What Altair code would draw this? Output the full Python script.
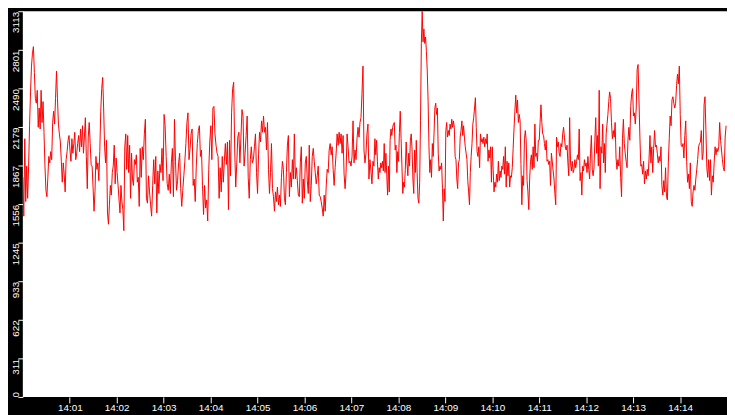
import altair as alt
import pandas as pd

# Values per 2.5-minute segment (evenly spaced samples within each segment)
seg_1400_00 = [1772, 1459, 2084, 1577, 1863, 1603, 1863, 2189, 2462, 2670, 2774, 2827, 2618, 2410, 2371, 2475,
               2176, 2332, 2163, 2475, 2215, 2384, 2136, 1863, 1668, 1616, 1772, 1941, 1889, 1980, 1915, 2215,
               2306, 2202, 2410, 2631, 2410, 2202, 2123, 2058, 1902, 1733, 1889, 1798, 1655, 1915, 1980, 2071,
               2110, 1993, 1902, 2084, 1967, 2045, 2136, 1915, 1967, 2045, 2110, 1980, 2163, 2019, 2189, 1967,
               2097, 2254, 1941, 1681, 2097, 2215, 2045, 1876, 1863, 1694, 1499, 1655, 1941, 1837, 1889, 1746,
               1980, 2306, 2488, 2579, 2332, 2019, 1889, 2071, 1485, 1394, 1551, 1707, 1629, 1811, 1863, 2032,
               1720, 1928, 1811, 1707, 1590, 1485, 1707, 1577, 1512, 1342, 2019, 2123, 1837, 2110, 1811, 2032,
               1603, 1967, 1759, 1707, 1915, 1876, 1954, 1733, 1772, 1538]
seg_1402_30 = [2006, 1772, 2019, 1915, 2123, 2241, 1603, 1564, 1785, 1655, 1551, 1459, 1707, 1915, 1720, 1941,
               1485, 1824, 1642, 1876, 1811, 2006, 1746, 2280, 2189, 1941, 1720, 1668, 1798, 1642, 1889, 2006,
               1616, 2241, 1902, 1668, 1746, 1889, 1967, 1681, 1538, 1668, 1785, 1902, 2045, 2215, 2293, 1915,
               2006, 2123, 2163, 1707, 1759, 1577, 1863, 2045, 2150, 2189, 1941, 1993, 1707, 1472, 1707, 1525,
               1590, 1420, 1837, 2058, 2189, 1915, 2332, 2345, 2123, 2032, 1967, 1941, 1603, 1850, 1655, 1941,
               1733, 1902, 2045, 1876, 2058, 1512, 2071, 1785, 2293, 2488, 2540, 1993, 1694, 1889, 2097, 2136,
               1889, 2097, 2319, 2267, 1863, 1967, 2110, 2267, 1772, 1603, 1915, 2019, 1889, 1915, 2019, 2123, 1811]
seg_1405_00 = [1642, 1954, 2136, 2058, 2228, 2136, 2267, 2136, 2176, 1993, 2215, 1837, 1642, 1811, 2045, 1681,
               1616, 1499, 1655, 1577, 1694, 1551, 1629, 1538, 1772, 1902, 1837, 1603, 1551, 1811, 2032, 2110,
               1616, 1811, 1694, 1915, 1759, 2123, 1759, 1850, 1746, 1629, 1616, 1889, 2019, 1564, 1759, 1603,
               1889, 1941, 1746, 1642, 2032, 1577, 1707, 1941, 2006, 1902, 1811, 1720, 1785, 1863, 1629, 1616,
               1577, 1525, 1459, 1629, 1499, 1694, 1837, 1811, 1993, 2045, 1954, 2019, 1837, 1707, 1850, 1967,
               2123, 2032, 2136, 2045, 2123, 1967, 2110, 1798, 1681, 1811, 2123, 2019, 1889, 1902, 1863, 1941,
               2228, 1889, 1993, 1915, 2084, 2176, 2097, 2215, 2254, 2449, 2670, 1993, 1889, 1967, 2123, 2202,
               1759, 1915, 1824, 1720, 1902, 1863]
seg_1407_30 = [2084, 1954, 2071, 1902, 1759, 1850, 1811, 1889, 1850, 1902, 1824, 2045, 1811, 1967, 1798, 1629,
               1863, 1655, 2071, 2163, 2110, 2176, 2202, 2215, 1993, 2032, 1811, 1980, 1902, 2136, 2306, 2084,
               1863, 1642, 1733, 1694, 1837, 2058, 1889, 1785, 1967, 1863, 2071, 2123, 1993, 1759, 1642, 1993,
               1811, 2071, 1811, 1603, 1564, 1733, 2228, 2853, 3113, 2866, 2970, 2853, 2905, 2788, 2631, 2384,
               2019, 1811, 1915, 1772, 2045, 1941, 2123, 2332, 2371, 2280, 2332, 1967, 1824, 1863, 1837, 1889,
               1681, 1420, 1681, 1577, 2150, 2215, 2097, 2150, 2110, 2202, 2163, 2241, 2176, 2228, 2176, 1941,
               1915, 1759, 1681, 1889, 1915, 2097, 2150, 2228, 2110, 2189, 2097, 2019, 1967, 1915, 1746, 1655,
               1551, 1811, 1941, 2045, 2202, 2254, 2332, 2415, 2176, 1980, 1941, 2019, 1850, 2123, 2058, 2084,
               2045, 2097, 2019, 2084, 2045, 2123, 1902, 1993, 1928, 2019, 1733]
seg_1410_00 = [2019, 1837, 1655, 1733, 1694, 1798, 1733, 1902, 1746, 1824, 1772, 1863, 1837, 1941, 1798, 2019,
               1694, 1902, 1785, 1889, 1694, 1785, 1772, 1850, 2006, 2163, 2306, 2436, 2293, 2397, 2215, 2280,
               2228, 1876, 1551, 1785, 1707, 2084, 2150, 2071, 1746, 1655, 1512, 1759, 1902, 1954, 1837, 2019,
               1850, 2202, 1941, 1967, 1902, 2071, 2071, 2215, 2358, 2215, 2123, 2110, 2045, 1993, 2071, 1902,
               1915, 1876, 1902, 1707, 1967, 1902, 1824, 1759, 1642, 1551, 2097, 2019, 2058, 1967, 1941, 2045,
               2019, 2123, 2176, 2097, 2019, 1993, 2032, 1889, 1785, 2254, 1889, 1824, 1902, 1811, 1837, 1915,
               1850, 1902, 1954, 1915, 2163, 1746, 1811, 1629, 1863, 1824, 1915, 1863, 1889, 1811, 1941, 1837,
               1759, 1967, 2110, 1837, 1785, 1850, 2071, 2254, 1967, 2110, 1863, 2475, 1681, 2019, 1967, 2202,
               1889, 2045, 1811, 2123, 2202, 2280, 2384]
seg_1412_30 = [2462, 2410, 2215, 2084, 2150, 2097, 2215, 1928, 1837, 1915, 1863, 2019, 1772, 1616, 2084, 2241,
               2045, 1967, 1902, 1850, 2071, 2176, 2071, 2345, 2449, 2488, 2267, 2293, 2202, 2332, 2644, 2683,
               2397, 2097, 1863, 1876, 1798, 1902, 1720, 1824, 1759, 1837, 1785, 1928, 2110, 1889, 2019, 1811,
               2006, 2150, 2019, 2032, 1967, 1889, 1941, 1902, 2019, 1707, 1629, 1746, 1655, 1850, 1616, 1590,
               1889, 2084, 2267, 2189, 2397, 2423, 2371, 2332, 2371, 2514, 2605, 2527, 2670, 2280, 2032, 2019,
               2045, 1928, 2110, 2228, 1902, 1733, 1798, 1681, 1889, 1577, 1538, 1655, 1707, 1668, 1759, 1837,
               1915, 2019, 2045, 2058, 2150, 1915, 1967, 2358, 2423, 2150, 1850, 1772, 1915, 1746, 1915, 1629,
               1785, 1733, 1889, 2019, 1954, 2006, 1980, 2019, 2215, 2071, 1993, 1915, 1850, 1824, 2097, 2189]

segments = [seg_1400_00, seg_1402_30, seg_1405_00, seg_1407_30, seg_1410_00, seg_1412_30]
segment_seconds = 150
start_time = "2024-01-01 14:00:00"

y_ticks = [0, 311, 622, 933, 1245, 1556, 1867, 2179, 2490, 2801, 3113]
x_tick_minutes = list(range(1, 15))

rows = []
t0 = pd.Timestamp(start_time)
for k, seg in enumerate(segments):
    n = len(seg)
    for i, v in enumerate(seg):
        rows.append({"time": t0 + pd.Timedelta(seconds=segment_seconds * k + segment_seconds * i / n),
                     "value": v})
df = pd.DataFrame(rows)

x_values = [alt.DateTime(year=2024, month=1, date=1, hours=14, minutes=m) for m in x_tick_minutes]
x_domain = [alt.DateTime(year=2024, month=1, date=1, hours=14, minutes=0),
            alt.DateTime(year=2024, month=1, date=1, hours=14, minutes=15)]

chart = alt.Chart(df).mark_line(color="#ff0000", strokeWidth=1, clip=True).encode(
    x=alt.X("time:T", scale=alt.Scale(domain=x_domain, nice=False),
            axis=alt.Axis(values=x_values, format="%H:%M", title=None, grid=False, domain=False,
                          tickColor="white", tickSize=6, tickWidth=1,
                          labelColor="white", labelFont="Liberation Sans", labelFontSize=10,
                          labelPadding=0, labelFlush=False, labelOverlap=False,
                          minExtent=17, maxExtent=17)),
    y=alt.Y("value:Q", scale=alt.Scale(domain=[0, 3113], nice=False, zero=True),
            axis=alt.Axis(values=y_ticks, format="d", title=None, grid=False, domain=False,
                          tickColor="white", tickSize=5, tickWidth=1,
                          labelColor="white", labelFont="Liberation Sans", labelFontSize=10,
                          labelAngle=270,
                          labelAlign={"condition": {"test": "datum.value == 0", "value": "left"},
                                      "value": "right"},
                          labelBaseline="middle", labelPadding=2,
                          labelFlush=False, labelOverlap=False, labelBound=False,
                          minExtent=15, maxExtent=15)),
).properties(
    width=712, height=390, padding=0, background="black"
).configure_view(
    fill="white", stroke=None
)

chart.save("out.html", embed_options={"renderer": "svg", "actions": False})
